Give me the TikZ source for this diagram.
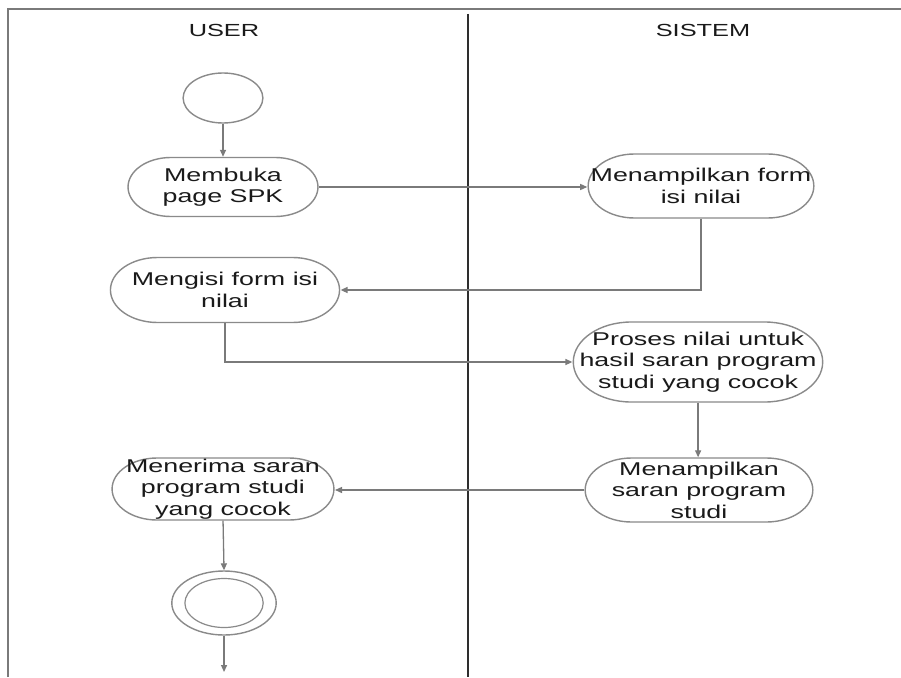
\documentclass[tikz,border=0pt]{standalone}
\usepackage{fontspec}
\setmainfont{Liberation Sans}
\usetikzlibrary{shapes.geometric, shapes.misc, arrows.meta}
\definecolor{linegray}{HTML}{7A7A7A}
\definecolor{boxgray}{HTML}{8A8A8A}
\definecolor{txt}{HTML}{1A1A1A}
\definecolor{divcol}{HTML}{2E2E2E}
\tikzset{
  act/.style={rounded rectangle, draw=boxgray, line width=1.4pt, fill=white, text=txt, align=center,
    inner sep=0pt, font=\fontsize{18.5}{21.5}\selectfont},
  acttext/.style={text=txt, align=center, inner sep=0pt, font=\fontsize{18.5}{21.5}\selectfont},
  startnode/.style={ellipse, draw=boxgray, line width=1.4pt, inner sep=0pt, fill=white},
  flow/.style={draw=linegray, line width=1.3pt, -{Triangle[length=7pt,width=6pt]}},
  lanetitle/.style={text=txt, font=\fontsize{17.5}{20}\selectfont},
  framecol/.style={draw=linegray, line width=2pt},
  dividerline/.style={draw=divcol, line width=2.5pt},
}
\begin{document}
\begin{tikzpicture}[x=0.689655pt, y=-1pt, xscale=1.45, transform shape]
\useasboundingbox[fill=white] (0,0) rectangle (901,677);
% frame and swimlane divider
\draw[framecol] (8,677) -- (8,9) -- (901,9);
\draw[dividerline] (468,14) -- (468,677);
% lane titles
\node[lanetitle] (user) at (224,30) {USER};
\node[lanetitle] (sistem) at (703,30) {SISTEM};
% nodes
\node[startnode, minimum width=55pt, minimum height=50pt] (start) at (223,98) {};
\node[act, minimum width=131pt, minimum height=59pt] (buka) at (223,187) {Membuka\\page SPK};
\node[act, minimum width=154pt, minimum height=64pt, inner xsep=-3.5pt] (form) at (701,186) {Menampilkan form\\isi nilai};
\node[act, minimum width=156pt, minimum height=65pt, inner xsep=-1pt] (isi) at (225,290) {Mengisi form isi\\nilai};
\node[act, minimum width=172pt, minimum height=80pt,
  label={[acttext]center:{Proses nilai untuk\\hasil saran program\\studi yang cocok}}] (proses) at (698,362) {};
\node[act, minimum width=157pt, minimum height=64pt] (saran) at (699,490) {Menampilkan\\saran program\\studi};
\node[act, minimum width=153pt, minimum height=62pt, inner xsep=-14pt] (terima) at (223,489) {Menerima saran\\program studi\\yang cocok};
\node[startnode, minimum width=72pt, minimum height=64pt] (final) at (224,603) {};
\node[startnode, line width=1.2pt, minimum width=54pt, minimum height=49pt] (finalin) at (final) {};
\coordinate (out) at (224,672);
% connectors
\draw[flow] (start.south) -- (buka.north);
\draw[flow] (buka.east) -- (buka.east -| form.west);
\draw[flow] (form.south) |- (isi.east);
\draw[flow] (isi.south) |- (proses.west);
\draw[flow] (proses.south) -- (proses.south |- saran.north);
\draw[flow] (saran.west) -- (saran.west -| terima.east);
\draw[flow] (terima.south) -- (final.north);
\draw[flow] (final.south) -- (out);
\end{tikzpicture}
\end{document}
